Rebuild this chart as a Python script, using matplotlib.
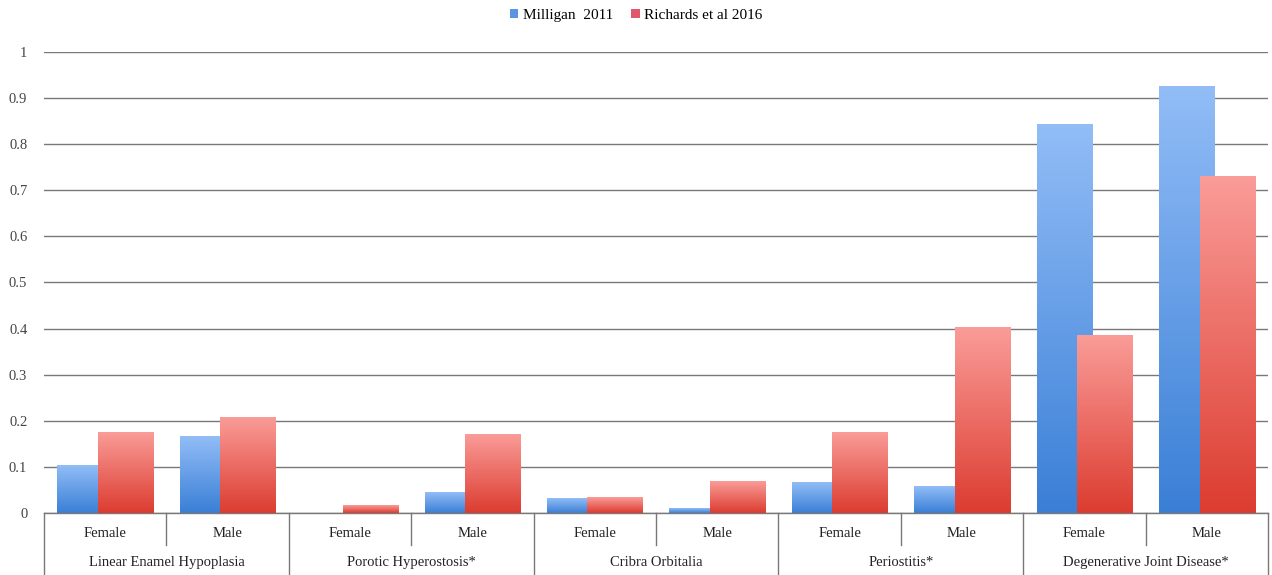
import numpy as np
import matplotlib
matplotlib.use("Agg")
import matplotlib.pyplot as plt
from matplotlib.colors import LinearSegmentedColormap
from matplotlib.patches import Patch

plt.rcParams['font.family'] = ['Liberation Serif', 'DejaVu Serif']

conditions = ["Linear Enamel Hypoplasia", "Porotic Hyperostosis*", "Cribra Orbitalia",
              "Periostitis*", "Degenerative Joint Disease*"]
sexes = ["Female", "Male"]
series_names = ["Milligan  2011", "Richards et al 2016"]
milligan = [0.102, 0.165, 0.0, 0.045, 0.032, 0.010, 0.067, 0.058, 0.842, 0.926]
richards = [0.174, 0.207, 0.017, 0.171, 0.034, 0.069, 0.175, 0.403, 0.386, 0.729]
yticks = [0, 0.1, 0.2, 0.3, 0.4, 0.5, 0.6, 0.7, 0.8, 0.9, 1]
ytick_labels = ["0", "0.1", "0.2", "0.3", "0.4", "0.5", "0.6", "0.7", "0.8", "0.9", "1"]

blue_cmap = LinearSegmentedColormap.from_list("blue_grad", ["#3a7fd6", "#92bdf7"])
red_cmap = LinearSegmentedColormap.from_list("red_grad", ["#dc3c30", "#fa9c98"])

fig = plt.figure(figsize=(12.72, 5.75), dpi=100)
ax = fig.add_axes([0.0346, 0.1078, 0.9623, 0.8018])

n = len(milligan)
x = np.arange(n) + 0.5
width = 0.45
bars_b = ax.bar(x - 0.165, milligan, width, color="none", zorder=2)
bars_r = ax.bar(x + 0.165, richards, width, color="none", zorder=3)

# vertical gradient fill for each bar, light at the top
grad = np.linspace(0, 1, 256).reshape(-1, 1)
for bars, cmap, z in ((bars_b, blue_cmap, 2), (bars_r, red_cmap, 3)):
    for p in bars:
        h = p.get_height()
        if h <= 0:
            continue
        x0 = p.get_x()
        ax.imshow(grad, extent=(x0, x0 + p.get_width(), 0, h), origin="lower",
                  cmap=cmap, aspect="auto", zorder=z, interpolation="bilinear")

ax.set_xlim(0, n)
ax.set_ylim(0, 1)
ax.set_yticks(yticks)
ax.set_yticklabels(ytick_labels, fontsize=10.5, color="#444444")
ax.tick_params(axis="y", length=0, pad=12)
ax.set_xticks([])
ax.grid(axis="y", color="#787878", linewidth=1.0, zorder=0)
ax.set_axisbelow(True)
for s in ("top", "right", "left"):
    ax.spines[s].set_visible(False)
ax.spines["bottom"].set_color("#787878")
ax.spines["bottom"].set_linewidth(1.0)

trans = ax.get_xaxis_transform()
# sex labels with short separators, long separators between conditions
for i in range(n):
    ax.text(x[i], -0.045, sexes[i % 2], transform=trans, ha="center", va="center",
            fontsize=10.5, color="#222222")
for i in range(n + 1):
    depth = -0.07 if i % 2 == 1 else -0.14
    ax.plot([i, i], [0, depth], transform=trans, color="#787878", lw=1.0, clip_on=False)
for j, c in enumerate(conditions):
    ax.text(2 * j + 1, -0.107, c, transform=trans, ha="center", va="center",
            fontsize=10.5, color="#222222")

handles = [Patch(facecolor="#5b95e0"), Patch(facecolor="#e0566a")]
fig.legend(handles, series_names, loc="center", bbox_to_anchor=(0.5, 0.973), ncol=2,
           frameon=False, fontsize=11, handlelength=0.55, handleheight=0.55,
           handletextpad=0.3, columnspacing=1.2)

fig.savefig("out.png", dpi=100)
